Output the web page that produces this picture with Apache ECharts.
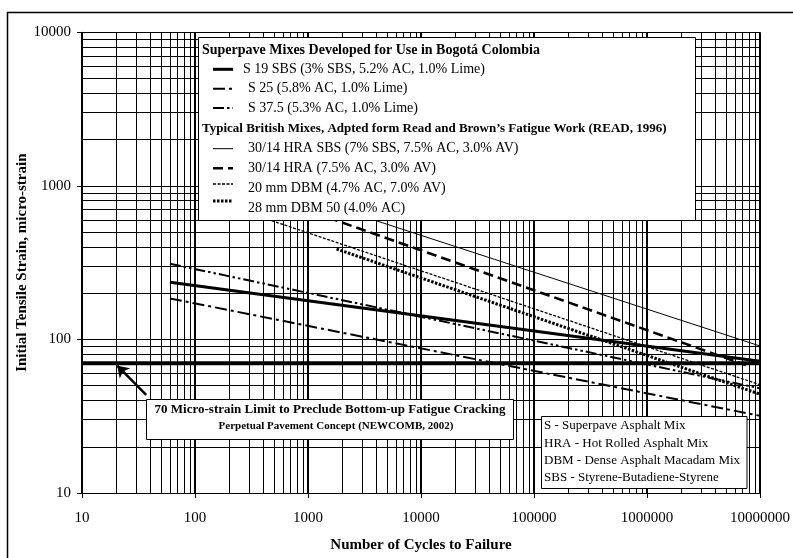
<!DOCTYPE html>
<html><head><meta charset="utf-8">
<script src="https://cdn.jsdelivr.net/npm/echarts@6/dist/echarts.min.js"></script>
<style>html,body{margin:0;padding:0;background:#fff}#c{width:793px;height:558px}</style>
</head><body><div id="c"></div>
<script>
// ---- data ----
const xTickLabels = ['10','100','1000','10000','100000','1000000','10000000'];
const yTickLabels = ['10','100','1000','10000'];
const xMinorGrid = [20,30,40,50,60,70,80,90,200,300,400,500,600,700,800,900,
  2000,3000,4000,5000,6000,7000,8000,9000,20000,30000,40000,50000,60000,70000,80000,90000,
  200000,300000,400000,500000,600000,700000,800000,900000,
  2000000,3000000,4000000,5000000,6000000,7000000,8000000,9000000];
const yMinorGrid = [20,30,40,50,60,70,80,90,200,300,400,500,600,700,800,900,
  2000,3000,4000,5000,6000,7000,8000,9000];

const s19Cycles = [60, 10000000];      const s19Strain = [236, 72];
const s25Cycles = [60, 10000000];      const s25Strain = [185, 31.8];
const s375Cycles = [60, 10000000];     const s375Strain = [311, 48];
const hraSbsCycles = [200, 10000000];  const hraSbsStrain = [1219, 90.6];
const hraCycles = [200, 7500000];      const hraStrain = [1052, 68];
const dbm20Cycles = [200, 10000000];   const dbm20Strain = [736, 50.7];
const dbm28Cycles = [1790, 10000000];  const dbm28Strain = [388, 44];
const limitCycles = [10, 10000000];    const limitStrain = [70, 70];
const arrowTail = [37, 43.5];          const arrowTip = [20.5, 67.5];

const legendHead1 = 'Superpave Mixes Developed for Use in Bogotá Colombia';
const legendHead2 = 'Typical British Mixes, Adpted form Read and Brown\u2019s Fatigue Work (READ, 1996)';
const seriesNames = [
  'S 19 SBS (3% SBS, 5.2% AC, 1.0% Lime)',
  'S 25 (5.8% AC, 1.0% Lime)',
  'S 37.5 (5.3% AC, 1.0% Lime)',
  '30/14 HRA SBS (7% SBS, 7.5% AC, 3.0% AV)',
  '30/14 HRA (7.5% AC, 3.0% AV)',
  '20 mm DBM (4.7% AC, 7.0% AV)',
  '28 mm DBM 50 (4.0% AC)'
];
const abbrevLines = ['S - Superpave Asphalt Mix','HRA - Hot Rolled Asphalt Mix',
  'DBM - Dense Asphalt Macadam Mix','SBS - Styrene-Butadiene-Styrene'];
const noteLine1 = '70 Micro-strain Limit to Preclude Bottom-up Fatigue Cracking';
const noteLine2 = 'Perpetual Pavement Concept (NEWCOMB, 2002)';

// ---- chart ----
const FONT = '"Liberation Serif","Times New Roman",serif';
const zip = (a, b) => a.map((v, i) => [v, b[i]]);

const styles = [
  {width: 3, type: 'solid'},
  {width: 2, type: [12, 4, 3, 4]},
  {width: 2, type: [11, 3, 2.5, 3, 2.5, 3]},
  {width: 1, type: 'solid'},
  {width: 2.5, type: [10, 5]},
  {width: 1.3, type: [3, 1.5]},
  {width: 3, type: [2.5, 1.5]}
];
const datasets = [
  zip(s19Cycles, s19Strain), zip(s25Cycles, s25Strain), zip(s375Cycles, s375Strain),
  zip(hraSbsCycles, hraSbsStrain), zip(hraCycles, hraStrain),
  zip(dbm20Cycles, dbm20Strain), zip(dbm28Cycles, dbm28Strain)
];

const series = [{
  name: 'grid', type: 'line', data: [[10, 10]], showSymbol: false, symbol: 'none',
  lineStyle: {width: 0}, silent: true, z: 1,
  markLine: {
    silent: true, symbol: 'none', z: 1, animation: false,
    label: {show: false},
    lineStyle: {color: '#000', width: 1, type: 'solid'},
    emphasis: {disabled: true},
    data: xMinorGrid.map(v => ({xAxis: v})).concat(yMinorGrid.map(v => ({yAxis: v})))
  }
}];
datasets.forEach((d, i) => series.push({
  name: seriesNames[i], type: 'line', data: d, symbol: 'none', showSymbol: false,
  z: 3, silent: true,
  lineStyle: Object.assign({color: '#000', cap: 'butt'}, styles[i])
}));
series.push({
  name: '70 limit', type: 'line', data: zip(limitCycles, limitStrain), symbol: 'none',
  z: 4, silent: true, lineStyle: {color: '#000', width: 4},
  markLine: {
    silent: true, z: 10, animation: false, symbol: ['none', 'arrow'], symbolSize: 11,
    label: {show: false},
    lineStyle: {color: '#000', width: 2.5, type: 'solid'},
    data: [[{coord: arrowTail}, {coord: arrowTip}]]
  }
});

// legend & boxes as graphic elements
const g = [];
g.push({type: 'rect', z: 100, shape: {x: 7.5, y: 12.5, width: 1000, height: 800},
  style: {fill: 'none', stroke: '#000', lineWidth: 1.5}});
g.push({type: 'rect', z: 100, shape: {x: 198.5, y: 37.5, width: 497, height: 183},
  style: {fill: '#fff', stroke: '#000', lineWidth: 1}});
g.push({type: 'text', z: 101, x: 202, y: 50, style: {text: legendHead1, fill: '#000',
  font: 'bold 14px ' + FONT, verticalAlign: 'middle'}});
g.push({type: 'text', z: 101, x: 202, y: 129, style: {text: legendHead2, fill: '#000',
  font: 'bold 13px ' + FONT, verticalAlign: 'middle'}});
const rowY = [69.3, 88.7, 108, 148.7, 168.3, 188.3, 208.3];
const sampleY = [69.3, 88.7, 108, 148.7, 168.3, 184, 201];
const textX = [243, 248, 248, 248, 248, 248, 248];
seriesNames.forEach((n, i) => {
  g.push({type: 'line', z: 101, shape: {x1: 213, y1: sampleY[i], x2: 233, y2: sampleY[i]},
    style: {stroke: '#000', lineWidth: styles[i].width,
      lineDash: Array.isArray(styles[i].type) ? styles[i].type : null}});
  g.push({type: 'text', z: 101, x: textX[i], y: rowY[i], style: {text: n, fill: '#000',
    font: '14px ' + FONT, verticalAlign: 'middle'}});
});
// abbreviation box
g.push({type: 'rect', z: 100, shape: {x: 541.5, y: 416.5, width: 205.5, height: 72},
  style: {fill: '#fff', stroke: '#000', lineWidth: 1}});
abbrevLines.forEach((t, i) => g.push({type: 'text', z: 101, x: 544, y: 426 + i * 17.1,
  style: {text: t, fill: '#000', font: '13px ' + FONT, verticalAlign: 'middle'}}));
// note box
g.push({type: 'rect', z: 100, shape: {x: 146.5, y: 399.5, width: 367, height: 40},
  style: {fill: '#fff', stroke: '#000', lineWidth: 1}});
g.push({type: 'text', z: 101, x: 330, y: 410, style: {text: noteLine1, fill: '#000',
  font: 'bold 13px ' + FONT, align: 'center', verticalAlign: 'middle'}});
g.push({type: 'text', z: 101, x: 336, y: 426.5, style: {text: noteLine2, fill: '#000',
  font: 'bold 11px ' + FONT, align: 'center', verticalAlign: 'middle'}});

const chart = echarts.init(document.getElementById('c'), null, {renderer: 'canvas'});
chart.setOption({
  animation: false,
  backgroundColor: '#fff',
  grid: {left: 82, right: 32.3, top: 32.3, bottom: 64, containLabel: false},
  xAxis: {
    type: 'log', logBase: 10, min: 10, max: 10000000,
    name: 'Number of Cycles to Failure', nameLocation: 'middle', nameGap: 45,
    nameMoveOverlap: false,
    nameTextStyle: {fontFamily: FONT, fontWeight: 'bold', fontSize: 15, color: '#000'},
    axisLine: {show: true, lineStyle: {color: '#000', width: 1}},
    axisTick: {show: true, inside: false, length: 5, lineStyle: {color: '#000'}},
    axisLabel: {fontFamily: FONT, fontSize: 15, color: '#000', margin: 18,
      formatter: (v, i) => xTickLabels[i] !== undefined ? xTickLabels[i] : ''},
    splitLine: {show: true, lineStyle: {color: '#000', width: 2}},
    minorTick: {show: false}, minorSplitLine: {show: false}
  },
  yAxis: {
    type: 'log', logBase: 10, min: 10, max: 10000,
    name: 'Initial Tensile Strain, micro-strain', nameLocation: 'middle', nameGap: 52,
    nameMoveOverlap: false,
    nameTextStyle: {fontFamily: FONT, fontWeight: 'bold', fontSize: 15, color: '#000'},
    axisLine: {show: true, lineStyle: {color: '#000', width: 1}},
    axisTick: {show: true, inside: false, length: 5, lineStyle: {color: '#000'}},
    axisLabel: {fontFamily: FONT, fontSize: 15, color: '#000', margin: 11,
      formatter: (v, i) => yTickLabels[i] !== undefined ? yTickLabels[i] : ''},
    splitLine: {show: true, lineStyle: {color: '#000', width: 1}}
  },
  series: series,
  graphic: {elements: g}
});
</script></body></html>
